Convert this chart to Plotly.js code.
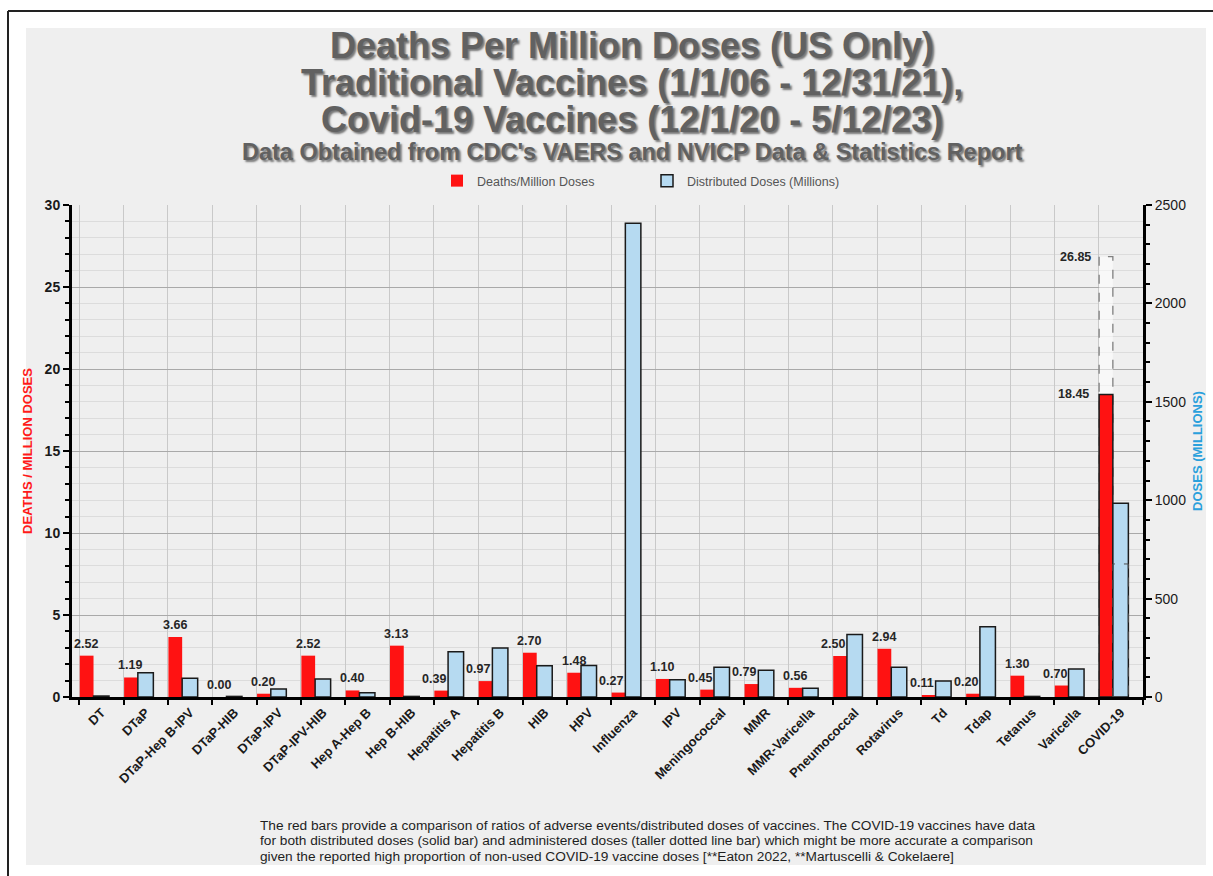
<!DOCTYPE html>
<html>
<head>
<meta charset="utf-8">
<script src="https://cdn.plot.ly/plotly-3.0.1.min.js"></script>
<style>
  html, body { margin: 0; padding: 0; background: #ffffff; }
  #chart { width: 1213px; height: 876px; }
</style>
</head>
<body>
<div id="chart"></div>
<script>
// Vaccine categories along the x axis
const vaccines = [
  'DT', 'DTaP', 'DTaP-Hep B-IPV', 'DTaP-HIB', 'DTaP-IPV', 'DTaP-IPV-HIB',
  'Hep A-Hep B', 'Hep B-HIB', 'Hepatitis A', 'Hepatitis B', 'HIB', 'HPV',
  'Influenza', 'IPV', 'Meningococcal', 'MMR', 'MMR-Varicella', 'Pneumococcal',
  'Rotavirus', 'Td', 'Tdap', 'Tetanus', 'Varicella', 'COVID-19'
];

// Deaths per million distributed doses (left axis)
const deathsPerMillion = [
  2.52, 1.19, 3.66, 0.00, 0.20, 2.52,
  0.40, 3.13, 0.39, 0.97, 2.70, 1.48,
  0.27, 1.10, 0.45, 0.79, 0.56, 2.50,
  2.94, 0.11, 0.20, 1.30, 0.70, 18.45
];

// Distributed doses in millions (right axis)
const distributedDoses = [
  5, 123, 95, 3, 41, 91,
  22, 3, 230, 249, 159, 160,
  2407, 88, 151, 136, 44, 317,
  151, 81, 357, 3, 142, 984
];

// COVID-19 figures based on administered rather than distributed doses
const covidCategory = 'COVID-19';
const covidAdministeredDoses = 676;
const covidDeathsPerAdministered = 26.85;

const captionLines = [
  'The red bars provide a comparison of ratios of adverse events/distributed doses of vaccines. The COVID-19 vaccines have data',
  'for both distributed doses (solid bar) and administered doses (taller dotted line bar) which might be more accurate a comparison',
  'given the reported high proportion of non-used COVID-19 vaccine doses [**Eaton 2022, **Martuscelli &amp; Cokelaere]'
];

// ---- page geometry ----
const W = 1213, H = 876;
const M = { l: 72, r: 70, t: 205, b: 179 };
const plotW = W - M.l - M.r, plotH = H - M.t - M.b;
const px2x = (px) => (px - M.l) / plotW;
const py2y = (py) => (H - M.b - py) / plotH;

const FONT = 'Liberation Sans, Arial, sans-serif';
const LEFT_MAX = 30, RIGHT_MAX = 2500;

// bar placement inside each category slot
const RED_OFFSET = -0.49, RED_WIDTH = 0.31;
const BLUE_OFFSET = -0.18, BLUE_WIDTH = 0.35;

const covidIndex = vaccines.indexOf(covidCategory);

const redTrace = {
  type: 'bar',
  name: 'Deaths/Million Doses',
  x: vaccines,
  y: deathsPerMillion,
  yaxis: 'y',
  offset: RED_OFFSET,
  width: RED_WIDTH,
  marker: {
    color: '#ff1212',
    line: { color: '#1a1a1a', width: vaccines.map((v) => v === covidCategory ? 1.5 : 0) }
  },
  hoverinfo: 'x+y'
};

const blueTrace = {
  type: 'bar',
  name: 'Distributed Doses (Millions)',
  x: vaccines,
  y: distributedDoses,
  yaxis: 'y2',
  offset: BLUE_OFFSET,
  width: BLUE_WIDTH,
  marker: { color: '#b6daf1', line: { color: '#1a1a1a', width: 1.5 } },
  hoverinfo: 'x+y'
};

// value labels above the red bars
const labelFont = { family: FONT, size: 12.5, color: '#262626', weight: 'bold' };
const annotations = [];
vaccines.forEach((v, i) => {
  if (v === covidCategory) return;
  const red = deathsPerMillion[i];
  const blueOnLeftScale = distributedDoses[i] / RIGHT_MAX * LEFT_MAX;
  const crowded = blueOnLeftScale > red + 0.6;
  annotations.push({
    xref: 'x', yref: 'y', x: v, y: red,
    text: red.toFixed(2), showarrow: false,
    xanchor: crowded ? 'right' : 'center',
    xshift: crowded ? -8 : -15.5,
    yanchor: 'bottom', yshift: 3,
    font: labelFont
  });
});
annotations.push({
  xref: 'x', yref: 'y', x: covidCategory, y: deathsPerMillion[covidIndex],
  text: deathsPerMillion[covidIndex].toFixed(2), showarrow: false,
  xanchor: 'right', xshift: -30, yanchor: 'middle', font: labelFont
});
annotations.push({
  xref: 'x', yref: 'y', x: covidCategory, y: covidDeathsPerAdministered,
  text: covidDeathsPerAdministered.toFixed(2), showarrow: false,
  xanchor: 'right', xshift: -28, yanchor: 'middle', font: labelFont
});

// title lines below the main title
const titleFont = (size) => ({
  family: FONT, size: size, color: '#616161', weight: 'bold',
  shadow: '2px 2px 2px rgba(0,0,0,0.5)'
});
[
  { text: 'Traditional Vaccines (1/1/06 - 12/31/21),', y: 83, size: 36 },
  { text: 'Covid-19 Vaccines (12/1/20 - 5/12/23)', y: 120, size: 36 },
  { text: 'Data Obtained from CDC\'s VAERS and NVICP Data &amp; Statistics Report', y: 152, size: 23.5 }
].forEach((line) => {
  annotations.push({
    xref: 'paper', yref: 'paper', x: px2x(632), y: py2y(line.y),
    xanchor: 'center', yanchor: 'middle', showarrow: false,
    text: line.text, font: titleFont(line.size)
  });
});

// explanatory note at the bottom
captionLines.forEach((line, k) => {
  annotations.push({
    xref: 'paper', yref: 'paper', x: px2x(258), y: py2y(825 + k * 15.5),
    xanchor: 'left', yanchor: 'middle', showarrow: false,
    text: line, font: { family: FONT, size: 13.7, color: '#1e1e1e' }
  });
});

const shapes = [
  // grey chart panel
  {
    type: 'rect', xref: 'paper', yref: 'paper', layer: 'below',
    x0: px2x(26), x1: px2x(1206), y0: py2y(865), y1: py2y(28),
    fillcolor: '#efefef', line: { width: 0 }
  },
  // page frame
  {
    type: 'line', xref: 'paper', yref: 'paper',
    x0: px2x(8), x1: px2x(W), y0: py2y(11), y1: py2y(11),
    line: { color: '#222', width: 2 }
  },
  {
    type: 'line', xref: 'paper', yref: 'paper',
    x0: px2x(8), x1: px2x(8), y0: py2y(11), y1: py2y(H),
    line: { color: '#222', width: 2 }
  },
  // COVID-19 deaths per million administered doses (dashed bar)
  {
    type: 'rect', xref: 'x', yref: 'y', layer: 'between',
    x0: covidIndex + RED_OFFSET, x1: covidIndex + RED_OFFSET + RED_WIDTH,
    y0: 0, y1: covidDeathsPerAdministered,
    fillcolor: 'rgba(255,255,255,0.55)',
    line: { color: '#808080', width: 1.3, dash: 'dash' }
  },
  // COVID-19 administered doses (dashed bar inside the distributed bar)
  {
    type: 'rect', xref: 'x', yref: 'y2', layer: 'above',
    x0: covidIndex + BLUE_OFFSET, x1: covidIndex + BLUE_OFFSET + BLUE_WIDTH,
    y0: 0, y1: covidAdministeredDoses,
    fillcolor: 'rgba(0,0,0,0)',
    line: { color: '#4d4d4d', width: 1, dash: 'dash' }
  }
];

const layout = {
  width: W, height: H,
  margin: M,
  paper_bgcolor: '#ffffff',
  plot_bgcolor: 'rgba(0,0,0,0)',
  barmode: 'overlay',
  title: {
    text: 'Deaths Per Million Doses (US Only)',
    xref: 'container', yref: 'container',
    x: 632 / W, xanchor: 'center',
    y: 1 - 45 / H, yanchor: 'middle',
    font: titleFont(36)
  },
  showlegend: true,
  legend: {
    orientation: 'h',
    x: px2x(437), xanchor: 'left',
    y: py2y(181), yanchor: 'middle',
    bgcolor: 'rgba(0,0,0,0)',
    itemwidth: 30,
    entrywidth: 165, entrywidthmode: 'pixels',
    font: { family: FONT, size: 12.5, color: '#555555' },
    traceorder: 'normal'
  },
  xaxis: {
    type: 'category',
    tickson: 'boundaries',
    ticks: 'outside', ticklen: 5, tickwidth: 2, tickcolor: '#000',
    showgrid: true, gridcolor: '#c9c9c9', gridwidth: 1,
    showline: true, linecolor: '#000', linewidth: 3,
    tickangle: -45,
    tickfont: { family: FONT, size: 13, color: '#1a1a1a', weight: 'bold' },
    fixedrange: true
  },
  yaxis: {
    range: [0, LEFT_MAX], tick0: 0, dtick: 5,
    ticks: 'outside', ticklen: 6, tickwidth: 2, tickcolor: '#000',
    showline: true, linecolor: '#000', linewidth: 3,
    showgrid: true, gridcolor: '#a9a9a9', gridwidth: 1,
    zeroline: false,
    minor: { dtick: 1, ticks: 'outside', ticklen: 4, tickwidth: 1.5, tickcolor: '#000',
             showgrid: true, gridcolor: '#dcdcdc', gridwidth: 1 },
    tickfont: { family: FONT, size: 14, color: '#1a1a1a', weight: 'bold' },
    title: { text: 'DEATHS / MILLION DOSES', standoff: 10,
             font: { family: FONT, size: 13, color: '#ff1a1a', weight: 'bold' } },
    fixedrange: true
  },
  yaxis2: {
    overlaying: 'y', side: 'right',
    range: [0, RIGHT_MAX], tick0: 0, dtick: 500,
    ticks: 'outside', ticklen: 6, tickwidth: 2, tickcolor: '#000',
    showline: true, linecolor: '#000', linewidth: 3,
    showgrid: false, zeroline: false,
    minor: { dtick: 100, ticks: 'outside', ticklen: 4, tickwidth: 1.5, tickcolor: '#000' },
    tickfont: { family: FONT, size: 14, color: '#1a1a1a' },
    title: { text: 'DOSES (MILLIONS)', standoff: 8,
             font: { family: FONT, size: 13, color: '#2aa0dc', weight: 'bold' } },
    fixedrange: true
  },
  annotations: annotations,
  shapes: shapes
};

Plotly.newPlot('chart', [redTrace, blueTrace], layout, { displayModeBar: false, responsive: false });
</script>
</body>
</html>
